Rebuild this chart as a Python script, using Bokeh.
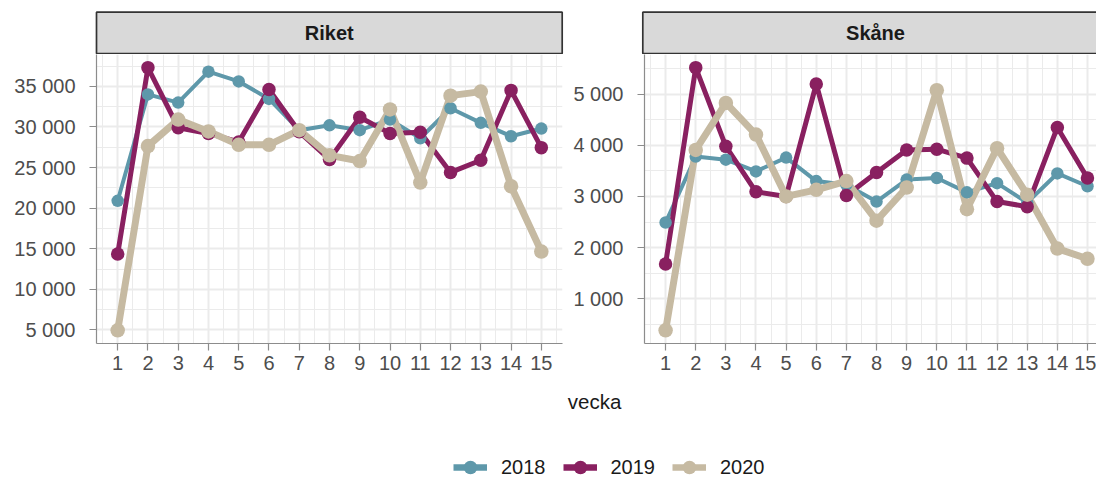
from bokeh.plotting import figure
from bokeh.layouts import column, row
from bokeh.models import FixedTicker, Legend, LegendItem, Range1d
from bokeh.embed import file_html
from bokeh.resources import INLINE
from bokeh.core.properties import value

# ---------------- data ----------------
weeks = list(range(1, 16))
years = ["2018", "2019", "2020"]

riket_2018 = [20900, 34000, 33000, 36800, 35600, 33450, 29600, 30200, 29600, 30900, 28600, 32300, 30500, 28850, 29800]
riket_2019 = [14350, 37300, 29900, 29200, 28150, 34600, 29400, 26000, 31200, 29200, 29350, 24400, 25900, 34500, 27450]
riket_2020 = [4950, 27650, 30900, 29450, 27800, 27800, 29600, 26500, 25800, 32150, 23150, 33850, 34350, 22700, 14650]

skane_2018 = [2490, 3780, 3720, 3490, 3760, 3300, 3230, 2900, 3330, 3360, 3080, 3260, 2880, 3450, 3200]
skane_2019 = [1680, 5520, 3980, 3090, 3000, 5200, 3020, 3470, 3910, 3925, 3750, 2900, 2800, 4350, 3360]
skane_2020 = [380, 3910, 4830, 4210, 3000, 3130, 3300, 2525, 3175, 5080, 2750, 3945, 3035, 1980, 1780]

riket_ticks = [5000, 10000, 15000, 20000, 25000, 30000, 35000]
riket_labels = ["5 000", "10 000", "15 000", "20 000", "25 000", "30 000", "35 000"]
skane_ticks = [1000, 2000, 3000, 4000, 5000]
skane_labels = ["1 000", "2 000", "3 000", "4 000", "5 000"]

panel_titles = ["Riket", "Skåne"]
x_title = "vecka"

# ---------------- style ----------------
FONT = "Liberation Sans"
colors = {"2018": "#5E98AA", "2019": "#892060", "2020": "#C6BAA2"}
line_w = {"2018": 4.0, "2019": 5.0, "2020": 7.0}
pt_size = {"2018": 12.5, "2019": 13.5, "2020": 14.5}
GRID = "#EBEBEB"
AXIS = "#8C8C8C"
TXT = "20px"

PANEL_H = 325
BORDER_B = 36


def make_panel(series, y_ticks, y_labels, width, bl, br, x_end):
    allv = [v for s in series.values() for v in s]
    lo, hi = min(allv), max(allv)
    pad = (hi - lo) * 0.05
    p = figure(width=width, height=PANEL_H,
               x_range=Range1d(0.3, x_end), y_range=Range1d(lo - pad, hi + pad),
               output_backend="svg", toolbar_location=None,
               min_border_left=bl, min_border_right=br,
               min_border_top=0, min_border_bottom=BORDER_B)
    p.outline_line_color = None
    p.background_fill_color = "white"
    p.border_fill_color = "white"
    # lines first, then points
    for y in years:
        p.line(weeks, series[y], line_color=colors[y], line_width=line_w[y], line_join="round")
    for y in years:
        p.scatter(weeks, series[y], size=pt_size[y], fill_color=colors[y], line_color=None)

    step = y_ticks[1] - y_ticks[0]
    y_minor = [t - step / 2 for t in y_ticks] + [y_ticks[-1] + step / 2]
    x_minor = [w - 0.5 for w in weeks] + [weeks[-1] + 0.5]
    p.xaxis.ticker = FixedTicker(ticks=weeks, minor_ticks=x_minor)
    p.yaxis.ticker = FixedTicker(ticks=y_ticks, minor_ticks=y_minor)
    p.yaxis.major_label_overrides = {t: l for t, l in zip(y_ticks, y_labels)}

    for g in (p.xgrid, p.ygrid):
        g.grid_line_color = GRID
        g.grid_line_width = 2
        g.minor_grid_line_color = GRID
        g.minor_grid_line_width = 1
    for ax in (p.xaxis, p.yaxis):
        ax.axis_line_color = AXIS
        ax.axis_line_width = 1.2
        ax.major_tick_line_color = AXIS
        ax.major_tick_line_width = 1.2
        ax.major_tick_out = 7
        ax.major_tick_in = 0
        ax.minor_tick_out = 0
        ax.minor_tick_in = 0
        ax.major_label_text_font = FONT
        ax.major_label_text_font_size = TXT
        ax.major_label_text_color = "#4D4D4D"
    p.xaxis.major_label_standoff = 5
    p.yaxis.major_label_standoff = 14
    return p


pL = make_panel({"2018": riket_2018, "2019": riket_2019, "2020": riket_2020},
                riket_ticks, riket_labels, 570, 96, 8, 15.7)
pR = make_panel({"2018": skane_2018, "2019": skane_2019, "2020": skane_2020},
                skane_ticks, skane_labels, 526, 72, 0, 15.3)

# ---------------- strips ----------------
STRIP_H = 54
strip = figure(width=1096, height=STRIP_H, x_range=Range1d(0, 1096), y_range=Range1d(0, STRIP_H),
               output_backend="svg", toolbar_location=None, x_axis_type=None, y_axis_type=None,
               min_border=0)
strip.outline_line_color = None
strip.xgrid.visible = False
strip.ygrid.visible = False
strip.quad(left=[96, 642.3], right=[561.7, 1120], bottom=[0.9, 0.9], top=[42.3, 42.3],
           fill_color="#D9D9D9", line_color="#333333", line_width=1.7)
strip.text(x=[328.8, 875], y=[21.5, 21.5], text=panel_titles,
           text_font=value(FONT), text_font_style="bold", text_font_size=TXT,
           text_align="center", text_baseline="middle", text_color="#1A1A1A")

# ---------------- bottom: axis title + legend ----------------
BOT_H = 100
bottom = figure(width=1096, height=BOT_H, x_range=Range1d(0, 1096), y_range=Range1d(0, BOT_H),
                output_backend="svg", toolbar_location=None, x_axis_type=None, y_axis_type=None,
                min_border=0)
bottom.outline_line_color = None
bottom.xgrid.visible = False
bottom.ygrid.visible = False
bottom.text(x=[594], y=[78], text=[x_title], text_font=value(FONT), text_font_size="20.5px",
            text_align="center", text_baseline="alphabetic", text_color="#1A1A1A")

nan = float("nan")
items = []
for y in years:
    rl = bottom.line([nan], [nan], line_color=colors[y], line_width=6.5)
    rp = bottom.scatter([nan], [nan], size=14, fill_color=colors[y], line_color=None)
    items.append(LegendItem(label=y, renderers=[rl, rp]))
legend = Legend(items=items, orientation="horizontal", location=(453, -5),
                glyph_width=34, glyph_height=34, label_standoff=14, spacing=17,
                padding=0, margin=0, border_line_color=None, background_fill_alpha=0,
                label_text_font=FONT, label_text_font_size=TXT, label_text_color="#1A1A1A")
bottom.add_layout(legend)

layout = column(strip, row(pL, pR), bottom)
open("out.html", "w").write(file_html(layout, INLINE))
